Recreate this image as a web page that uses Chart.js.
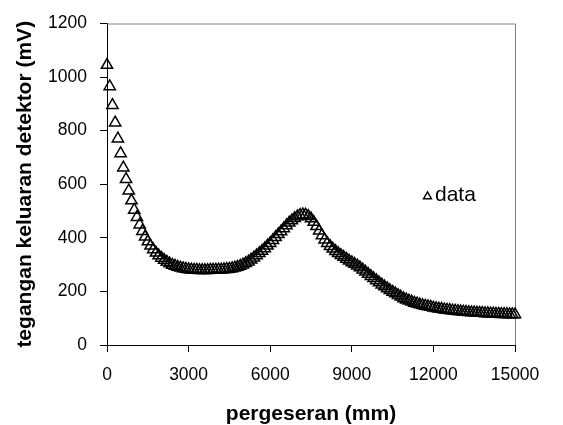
<!DOCTYPE html>
<html>
<head>
<meta charset="utf-8">
<script src="https://cdn.jsdelivr.net/npm/chart.js@4"></script>
<style>
  html, body { margin: 0; padding: 0; background: #fff; }
  canvas { display: block; }
</style>
</head>
<body>
<canvas id="chart" width="563" height="425"></canvas>
<script>
// Shift along the track (mm), one reading every 100 mm
const shiftMm = [
    0,   100,   200,   300,   400,   500,   600,   700,   800,   900,
 1000,  1100,  1200,  1300,  1400,  1500,  1600,  1700,  1800,  1900,
 2000,  2100,  2200,  2300,  2400,  2500,  2600,  2700,  2800,  2900,
 3000,  3100,  3200,  3300,  3400,  3500,  3600,  3700,  3800,  3900,
 4000,  4100,  4200,  4300,  4400,  4500,  4600,  4700,  4800,  4900,
 5000,  5100,  5200,  5300,  5400,  5500,  5600,  5700,  5800,  5900,
 6000,  6100,  6200,  6300,  6400,  6500,  6600,  6700,  6800,  6900,
 7000,  7100,  7200,  7300,  7400,  7500,  7600,  7700,  7800,  7900,
 8000,  8100,  8200,  8300,  8400,  8500,  8600,  8700,  8800,  8900,
 9000,  9100,  9200,  9300,  9400,  9500,  9600,  9700,  9800,  9900,
10000, 10100, 10200, 10300, 10400, 10500, 10600, 10700, 10800, 10900,
11000, 11100, 11200, 11300, 11400, 11500, 11600, 11700, 11800, 11900,
12000, 12100, 12200, 12300, 12400, 12500, 12600, 12700, 12800, 12900,
13000, 13100, 13200, 13300, 13400, 13500, 13600, 13700, 13800, 13900,
14000, 14100, 14200, 14300, 14400, 14500, 14600, 14700, 14800, 14900,
15000
];

// Detector output (mV)
const detectorMv = [
1045, 965, 895, 830, 770, 715, 662, 619, 576, 539,
 504, 477, 449, 425, 404, 386, 370, 356, 344, 334,
 325, 317, 310, 304, 299, 295, 291, 288, 286, 284,
 282, 281, 280, 280, 279, 279, 279, 279, 280, 280,
 280, 281, 281, 282, 283, 284, 286, 288, 291, 295,
 300, 305, 311, 318, 326, 334, 342, 351, 360, 370,
 380, 391, 402, 413, 424, 435, 446, 456, 465, 473,
 480, 485, 487, 486, 481, 472, 459, 443, 426, 409,
 393, 380, 369, 359, 350, 342, 335, 328, 321, 314,
 308, 302, 296, 289, 281, 273, 265, 257, 249, 241,
 233, 225, 218, 211, 204, 198, 192, 186, 180, 174,
 169, 165, 161, 157, 154, 151, 148, 146, 144, 142,
 139, 137, 135, 134, 132, 131, 130, 128, 127, 126,
 125, 124, 123, 122, 121, 121, 120, 119, 119, 118,
 118, 117, 117, 116, 116, 115, 115, 115, 114, 114,
 114
];

const xTicks = [0, 3000, 6000, 9000, 12000, 15000];
const yTicks = [0, 200, 400, 600, 800, 1000, 1200];

const seriesLabel = "data";
const xTitle = "pergeseran (mm)";
const yTitle = "tegangan keluaran detektor (mV)";

const FONT = "'Liberation Sans', Arial, sans-serif";

// grey top / right edge of the plot box
const framePlugin = {
    id: "frame",
    beforeDatasetsDraw(chart) {
        const { ctx, chartArea: a } = chart;
        ctx.save();
        ctx.strokeStyle = "#808080";
        ctx.lineWidth = 1;
        ctx.beginPath();
        ctx.moveTo(a.left, a.top + 0.5);
        ctx.lineTo(a.right + 0.5, a.top + 0.5);
        ctx.lineTo(a.right + 0.5, a.bottom);
        ctx.stroke();
        ctx.restore();
    }
};

// small legend sitting inside the plot, right of the peak
const legendPlugin = {
    id: "insideLegend",
    afterDraw(chart) {
        const { ctx, chartArea: a } = chart;
        const cx = a.left + 320.5, cy = a.top + 173, r = 4.6;
        ctx.save();
        ctx.strokeStyle = "#000";
        ctx.lineWidth = 1.4;
        ctx.beginPath();
        ctx.moveTo(cx, cy - r);
        ctx.lineTo(cx + r * 0.866, cy + r / 2);
        ctx.lineTo(cx - r * 0.866, cy + r / 2);
        ctx.closePath();
        ctx.stroke();
        ctx.fillStyle = "#000";
        ctx.font = "21px " + FONT;
        ctx.textAlign = "left";
        ctx.textBaseline = "alphabetic";
        ctx.fillText(chart.data.datasets[0].label, a.left + 328, a.top + 177);
        ctx.restore();
    }
};

const points = shiftMm.map((x, i) => ({ x: x, y: detectorMv[i] }));

const axisCommon = {
    type: "linear",
    grid: { display: true, drawOnChartArea: false, drawTicks: true, tickLength: 7, tickColor: "#000", tickWidth: 1 },
    border: { display: true, color: "#000", width: 1 },
    ticks: { color: "#000", padding: 13, font: { family: FONT, size: 17.5 }, callback: v => String(v) }
};

new Chart(document.getElementById("chart"), {
    type: "scatter",
    data: {
        datasets: [{
            label: seriesLabel,
            data: points,
            pointStyle: "triangle",
            pointRadius: 6.5,
            pointBorderWidth: 1.5,
            pointBorderColor: "#000",
            pointBackgroundColor: "rgba(0,0,0,0)",
            clip: false
        }]
    },
    options: {
        responsive: false,
        animation: false,
        devicePixelRatio: 1,
        layout: { padding: { left: 0, top: 22, right: 48, bottom: 0 } },
        plugins: { legend: { display: false }, tooltip: { enabled: false } },
        scales: {
            x: {
                ...axisCommon,
                min: 0, max: 15000,
                afterBuildTicks: s => { s.ticks = xTicks.map(v => ({ value: v })); },
                afterFit: s => { s.height = 80; },
                ticks: { ...axisCommon.ticks, maxRotation: 0, autoSkip: false },
                title: { display: true, text: xTitle, color: "#000", padding: { top: 0, bottom: 0 },
                         font: { family: FONT, size: 21, weight: "bold", lineHeight: 1 } }
            },
            y: {
                ...axisCommon,
                min: 0, max: 1200,
                afterBuildTicks: s => { s.ticks = yTicks.map(v => ({ value: v })); },
                afterFit: s => { s.width = 107; },
                title: { display: true, text: yTitle, color: "#000", padding: { top: 15, bottom: 0 },
                         font: { family: FONT, size: 21, weight: "bold", lineHeight: 1 } }
            }
        }
    },
    plugins: [framePlugin, legendPlugin]
});
</script>
</body>
</html>
